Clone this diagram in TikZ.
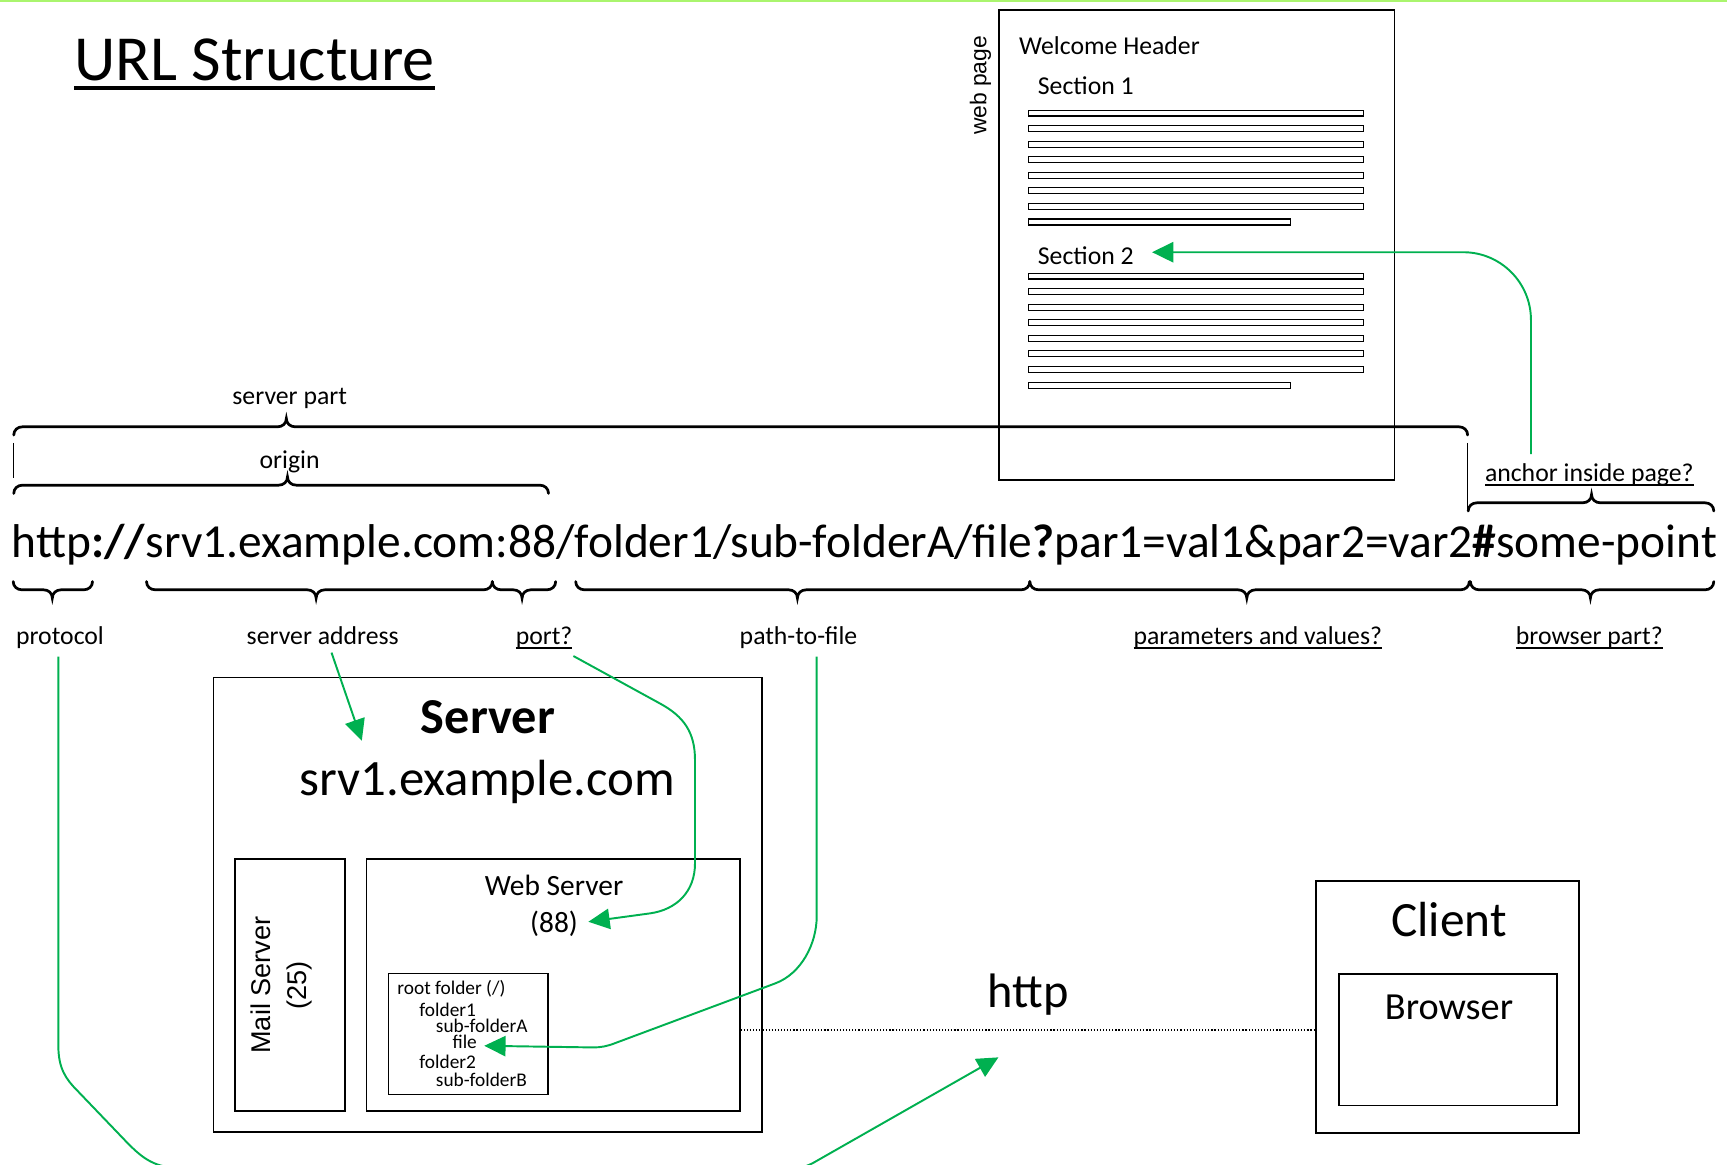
\documentclass[tikz,border=0pt]{standalone}
\usepackage{fontspec}
\setmainfont{Carlito}
\newfontfamily\arialfont{Liberation Sans}
\usetikzlibrary{arrows.meta,fit,calc}
\definecolor{grn}{RGB}{0,176,80}
\definecolor{topgreen}{RGB}{170,245,110}
\newsavebox\wulbox
\newcommand{\wul}[3]{\sbox\wulbox{#3}\rlap{\rule[#1]{\wd\wulbox}{#2}}\usebox\wulbox}
\newcommand{\fsz}[2]{\fontsize{#1pt}{#2pt}\selectfont}
\newcommand{\bracetop}[4]{%
  \draw[brc] (#1,#4) .. controls (#1,{#4-4.5}) and ({#1+3.5},{#4-7.5}) .. ({#1+8},{#4-7.5})
    -- ({#3-8},{#4-7.5}) .. controls ({#3-3.5},{#4-7.5}) and (#3,{#4-10.5}) .. (#3,{#4-15})
    .. controls (#3,{#4-10.5}) and ({#3+3.5},{#4-7.5}) .. ({#3+8},{#4-7.5})
    -- ({#2-8},{#4-7.5}) .. controls ({#2-3.5},{#4-7.5}) and (#2,{#4-4.5}) .. (#2,#4);}
\newcommand{\bracebot}[4]{%
  \draw[brc] (#1,#4) .. controls (#1,{#4+4.5}) and ({#1+3.5},{#4+7.5}) .. ({#1+8},{#4+7.5})
    -- ({#3-8},{#4+7.5}) .. controls ({#3-3.5},{#4+7.5}) and (#3,{#4+10.5}) .. (#3,{#4+15})
    .. controls (#3,{#4+10.5}) and ({#3+3.5},{#4+7.5}) .. ({#3+8},{#4+7.5})
    -- ({#2-8},{#4+7.5}) .. controls ({#2-3.5},{#4+7.5}) and (#2,{#4+4.5}) .. (#2,#4);}
\begin{document}
\begin{tikzpicture}[x=0.02cm,y=-0.02cm,
  lbl/.style={inner sep=0pt,anchor=base,font=\fsz{13.3}{16}},
  tree/.style={inner sep=0pt,anchor=base west,font=\fsz{10}{12}},
  box/.style={draw,line width=0.85pt,inner sep=0pt},
  txtline/.style={draw,fill=white,line width=0.65pt},
  brc/.style={line width=1.4pt,line cap=round},
  hair/.style={line width=0.6pt},
  garrow/.style={draw=grn,line width=1pt,-{Triangle[length=11pt,width=10.5pt]}}
]
\useasboundingbox (0,0) rectangle (1568,1057);
\draw[draw=topgreen,line width=1pt] (0,0.9) -- (1568,0.9);

% title
\node[anchor=base west,inner sep=0pt,font=\fsz{33.2}{38}] (title) at (67,73.5) {\wul{-0.145em}{0.07em}{URL Structure}};

% web page
\node[box,fit={(907,9) (1266,436)}] (webpage) {};
\node[rotate=90,inner sep=0pt,font=\arialfont\fsz{11.8}{14}] (webpagelbl) at (890.2,77.6) {web page};
\node[lbl,anchor=base west] (welcome) at (925,49.2) {Welcome Header};
\node[lbl,anchor=base west] (sec1) at (942,85.5) {Section 1};
\foreach \k in {0,...,6} \draw[txtline] (934,{100+14.1*\k}) rectangle (1238,{105.4+14.1*\k});
\draw[txtline] (934,198.8) rectangle (1172,204.2);
\node[lbl,anchor=base west] (sec2) at (942,239.8) {Section 2};
\foreach \k in {0,...,6} \draw[txtline] (934,{248+14.1*\k}) rectangle (1238,{253.4+14.1*\k});
\draw[txtline] (934,347) rectangle (1172,352.4);

% upper labels and braces
\node[lbl] (serverpart) at (263,367) {server part};
\node[lbl] (origin) at (263,425) {origin};
\node[lbl] (anchorlbl) at (1443,437) {\wul{-0.17em}{0.05em}{anchor inside page?}};
\bracetop{12.5}{1332.5}{260}{395}
\bracetop{12.5}{498}{261}{448}
\bracetop{1333}{1556}{1445}{464}
\draw[hair] (12.5,402) -- (12.5,434);
\draw[hair] (1332.5,402) -- (1332.5,462);

% URL
\node[anchor=base west,inner sep=0pt,font=\fsz{24.5}{28}] (url) at (10.5,506)
  {http\textbf{://}srv1.example.com:88/folder1/sub-folderA/file\textbf{?}par1=val1\&par2=var2\textbf{\#}some-point};

% lower braces and labels
\bracebot{12}{84}{47.5}{528}
\bracebot{133}{447}{287}{528}
\bracebot{447}{504.5}{474}{528}
\bracebot{522.7}{935}{724}{528}
\bracebot{935}{1334}{1132}{528}
\bracebot{1335}{1556}{1444}{528}
\node[lbl] (protocol) at (54.5,585) {protocol};
\node[lbl] (srvaddr) at (293,585) {server address};
\node[lbl] (port) at (494,585) {\wul{-0.17em}{0.05em}{port?}};
\node[lbl] (path) at (725,585) {path-to-file};
\node[lbl] (params) at (1142,585) {\wul{-0.17em}{0.05em}{parameters and values?}};
\node[lbl] (browserpart) at (1443,585) {\wul{-0.17em}{0.05em}{browser part?}};

% server
\node[box,fit={(193.7,615) (691.6,1028)}] (server) {};
\node[anchor=base,inner sep=0pt,font=\bfseries\fsz{26}{30}] (servertitle) at (443,666) {Server};
\node[anchor=base,inner sep=0pt,font=\fsz{26.3}{30}] (srvname) at (442.3,722.5) {srv1.example.com};
\node[box,fit={(213.5,779.7) (313.2,1008.8)}] (mailbox) {};
\node[rotate=90,align=center,inner sep=0pt,font=\arialfont\fsz{14}{18.8}] (mailsrv) at (255.5,894.4) {Mail Server\\(25)};
\node[box,fit={(332.7,779.7) (671.8,1008.8)}] (websrv) {};
\node[anchor=base,inner sep=0pt,font=\fsz{15.2}{18}] (websrvlbl) at (503,813.5) {Web Server};
\node[anchor=base,inner sep=0pt,font=\fsz{15.2}{18}] (port88) at (503,846.5) {(88)};
\node[box,fit={(352.8,883.8) (497.4,993.6)}] (rootbox) {};
\node[tree] (root) at (360.5,903) {root folder (/)};
\node[tree] (f1) at (380.5,922.6) {folder1};
\node[tree] (sfa) at (395.5,937.2) {sub-folderA};
\node[tree] (file) at (410.5,952.3) {file};
\node[tree] (f2) at (380.5,970.4) {folder2};
\node[tree] (sfb) at (395.5,986.4) {sub-folderB};

% client
\node[box,fit={(1194.7,799.6) (1433.7,1028.5)}] (client) {};
\node[anchor=base,inner sep=0pt,font=\fsz{25.5}{30}] (clientlbl) at (1315.7,850.5) {Client};
\node[box,fit={(1215.5,884.4) (1413.5,1003.6)}] (browser) {};
\node[anchor=base,inner sep=0pt,font=\fsz{19.8}{24}] (browserlbl) at (1315.6,925.2) {Browser};
\node[anchor=base,inner sep=0pt,font=\fsz{25}{30}] (httplbl) at (933.8,914.5) {http};
\coordinate (hline) at (0,935.2);
\draw[hair,densely dotted] (websrv.east |- hline) -- (client.west |- hline);

% green arrows
\coordinate (srvtip) at (328.5,672.5);
\coordinate (p88tip) at (534.2,836.9);
\coordinate (filetip) at (439.7,949.5);
\coordinate (httptip) at (906.5,960);
\coordinate (sec2tip) at (1046,229);
\draw[garrow] ($(srvaddr.south)+(8,7)$) -- (srvtip);
\draw[garrow] ($(port.south)+(26.6,6.3)$) -- (599,638.6) .. controls (621,650.5) and (631,665) .. (631,690)
  -- (631,784) .. controls (631,809) and (614.8,825.9) .. (590,829.3) -- (p88tip);
\draw[garrow] ($(path.south)+(16.5,7)$) -- (741.5,832) .. controls (741.5,857) and (727.4,884) .. (704,892.8)
  -- (557.9,947.3) .. controls (551,950) and (545,951) .. (538.7,951) -- (filetip);
\draw[garrow,rounded corners=35pt] ($(anchorlbl.north)+(-53,-8)$) |- (sec2tip);
\begin{scope}
\clip (0,0) rectangle (1568,1057);
\draw[garrow] ($(protocol.south)+(-1.5,7)$) -- (53,950) .. controls (53,970) and (60,980) .. (70,990)
  -- (116,1038) .. controls (130,1052) and (140,1060) .. (165,1061) -- (715,1061)
  .. controls (725,1061) and (730,1060) .. (738,1056) -- (httptip);
\end{scope}
\end{tikzpicture}
\end{document}
